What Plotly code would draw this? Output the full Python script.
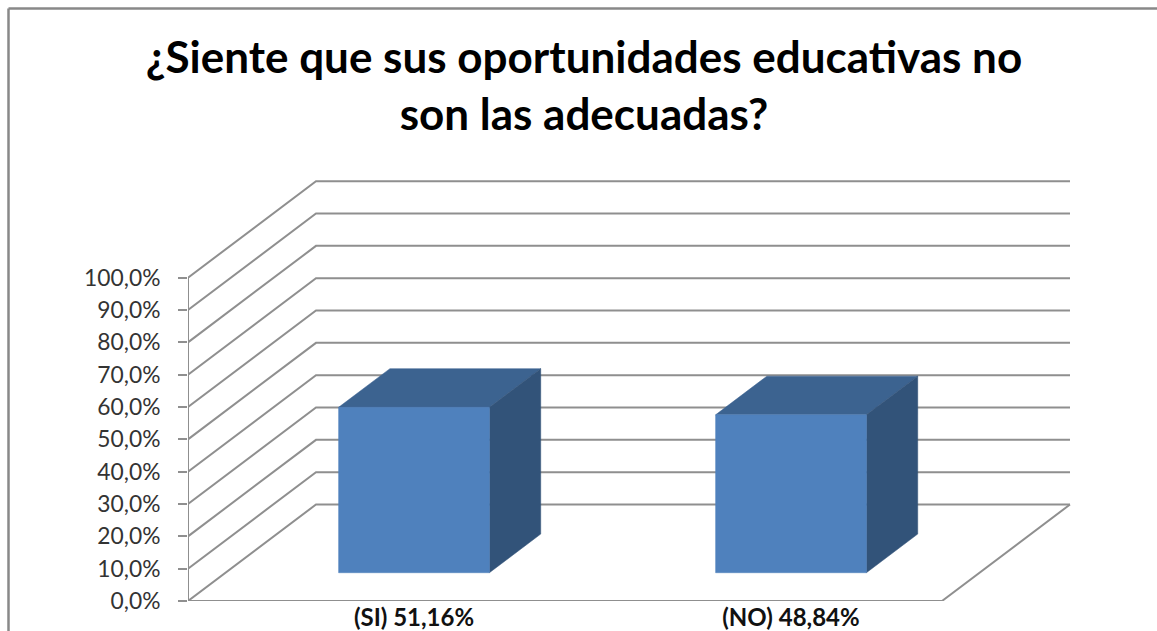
import plotly.graph_objects as go

# ---- data ----
categories = ["(SI) 51,16%", "(NO) 48,84%"]
values = [51.16, 48.84]
tick_values = [0, 10, 20, 30, 40, 50, 60, 70, 80, 90, 100]
tick_labels = ["0,0%", "10,0%", "20,0%", "30,0%", "40,0%", "50,0%", "60,0%", "70,0%", "80,0%", "90,0%", "100,0%"]
title_text = "¿Siente que sus oportunidades educativas no<br>son las adecuadas?"

# ---- geometry of the oblique 3-D view (pixels of the page) ----
W, H = 1157, 631
LEFT, BASE = 188.0, 601.0      # origin of the front plane
CAT_PX = 377.0                 # pixels per category
VAL_PX = 3.233                 # pixels per percent
DEPTH_PX_X, DEPTH_PX_Y = 128.0, 96.5
RIGHT_PX, TOP_PX = 1071.0, 180.0

DX = DEPTH_PX_X / CAT_PX       # depth shift in x units
DY = DEPTH_PX_Y / VAL_PX       # depth shift in y units
X0, X1 = -0.5, 1.5             # category span
BAR_HALF = 0.2
BAR_D0, BAR_D1 = 0.293, 0.694  # near and far depth of the bars


def proj(x, v, d):
    """Project (category position, value, depth 0..1) on the 2-D axes."""
    return x + d * DX, v + d * DY


GRID = "#8f8f8f"
FACE = "#4f81bd"
TOP = "#3c6390"
SIDE = "#325379"

fig = go.Figure()


def poly(points, color, fill=None, width=2.0):
    xs, ys = zip(*points)
    fig.add_trace(go.Scatter(
        x=list(xs), y=list(ys), mode="lines",
        line=dict(color=color, width=width),
        fill="toself" if fill else None, fillcolor=fill,
        hoverinfo="skip", showlegend=False, cliponaxis=False,
    ))


# walls
for v in tick_values:
    poly([proj(X0, v, 0), proj(X0, v, 1), proj(X1, v, 1)], GRID)
# floor and front axis
poly([proj(X1, 0, 1), proj(X1, 0, 0), proj(X0, 0, 0)], GRID)
poly([proj(X0, 0, 0), proj(X0, 100, 0)], GRID)

# bars
for i, v in enumerate(values):
    a, b = i - BAR_HALF, i + BAR_HALF
    poly([proj(a, v, BAR_D0), proj(a, v, BAR_D1), proj(b, v, BAR_D1), proj(b, v, BAR_D0), proj(a, v, BAR_D0)],
         TOP, fill=TOP, width=0.5)
    poly([proj(b, 0, BAR_D0), proj(b, 0, BAR_D1), proj(b, v, BAR_D1), proj(b, v, BAR_D0), proj(b, 0, BAR_D0)],
         SIDE, fill=SIDE, width=0.5)
    poly([proj(a, 0, BAR_D0), proj(b, 0, BAR_D0), proj(b, v, BAR_D0), proj(a, v, BAR_D0), proj(a, 0, BAR_D0)],
         FACE, fill=FACE, width=0.5)

plot_w, plot_h = RIGHT_PX - LEFT, BASE - TOP_PX
bar_shift = (BAR_D0 * DX)

fig.update_layout(
    width=W, height=H,
    margin=dict(l=LEFT, r=W - RIGHT_PX, t=TOP_PX, b=H - BASE, pad=0),
    paper_bgcolor="white", plot_bgcolor="white",
    showlegend=False,
    title=dict(text=title_text, x=584 / W, xanchor="center", y=1 - 73 / H, yanchor="top",
               font=dict(family="Lato", size=44, color="#000000", weight="bold")),
    xaxis=dict(range=[X0, X0 + plot_w / CAT_PX], showgrid=False, zeroline=False, showline=False,
               tickmode="array", tickvals=[i + bar_shift for i in range(len(categories))],
               ticktext=categories, ticks="", ticklabelstandoff=0, automargin=False,
               tickfont=dict(family="Lato", size=24, color="#111111", weight="bold")),
    yaxis=dict(range=[0, plot_h / VAL_PX], showgrid=False, zeroline=False, showline=False,
               tickmode="array", tickvals=tick_values, ticktext=tick_labels,
               ticks="outside", ticklen=9, tickwidth=2, tickcolor=GRID, automargin=False,
               ticklabelstandoff=13,
               tickfont=dict(family="Lato", size=22.8, color="#333333")),
    shapes=[dict(type="line", xref="paper", yref="paper",
                 x0=(8.5 - LEFT) / plot_w, x1=(W - LEFT) / plot_w,
                 y0=(BASE - 8.5) / plot_h, y1=(BASE - 8.5) / plot_h,
                 line=dict(color="#888888", width=2.5)),
            dict(type="line", xref="paper", yref="paper",
                 x0=(8.5 - LEFT) / plot_w, x1=(8.5 - LEFT) / plot_w,
                 y0=(BASE - 8.5) / plot_h, y1=(BASE - H) / plot_h,
                 line=dict(color="#888888", width=2.5))],
)

fig.write_html("out.html", config=dict(displayModeBar=False),
               post_script="document.body.style.margin='0';")
